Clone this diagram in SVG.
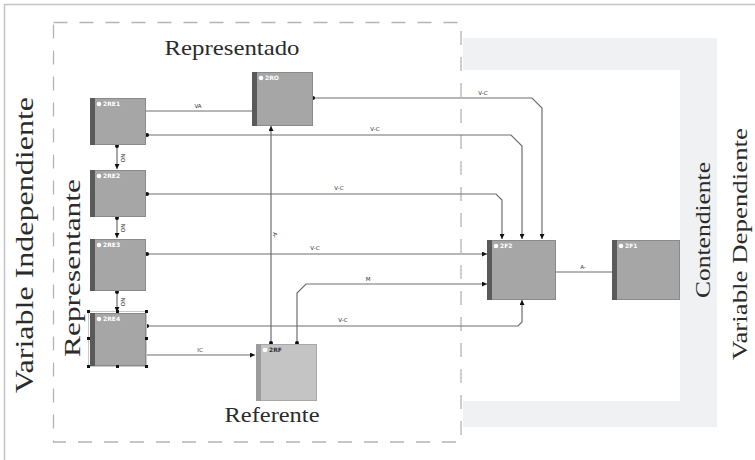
<svg xmlns="http://www.w3.org/2000/svg" width="755" height="460" viewBox="0 0 755 460">
<defs>
<marker id="arr" viewBox="0 0 6 6" refX="6" refY="3" markerWidth="5" markerHeight="5" markerUnits="userSpaceOnUse" orient="auto">
<path d="M0,0 L6,3 L0,6 Z" fill="#111"/>
</marker>
<marker id="dot" viewBox="0 0 6 6" refX="3" refY="3" markerWidth="4" markerHeight="4" markerUnits="userSpaceOnUse">
<circle cx="3" cy="3" r="3" fill="#111"/>
</marker>
</defs>
<style>
.big{font-family:"Liberation Serif","Times New Roman",serif;fill:#2b2b2b;}
.box{fill:#a6a6a6;stroke:#8a8a8a;stroke-width:1;}
.boxl{fill:#c4c4c4;stroke:#a8a8a8;stroke-width:1;}
.stripe{fill:#5a5a5a;}
.stripel{fill:#9c9c9c;}
.nl{font-family:"DejaVu Sans","Liberation Sans",sans-serif;font-size:6px;font-weight:bold;fill:#ffffff;}
.nld{font-family:"DejaVu Sans","Liberation Sans",sans-serif;font-size:6px;font-weight:bold;fill:#333333;}
.ic{fill:#ffffff;}
.c{fill:none;stroke:#6e6e6e;stroke-width:1.2;}
.lab{font-family:"DejaVu Sans","Liberation Sans",sans-serif;font-size:5.5px;fill:#333333;}
.h{fill:#111;}
</style>
<rect width="755" height="460" fill="#ffffff"/>
<path d="M4.5,460 V4.5 H755" fill="none" stroke="#c4c4c4" stroke-width="1.5"/>
<path d="M463,38 H717 V427 H463 V401 H680 V70 H463 Z" fill="#f0f1f3"/>
<rect x="53.5" y="22.5" width="407.5" height="419.5" fill="none" stroke="#b4b4b4" stroke-width="1.3" stroke-dasharray="14,12"/>

<g id="labels">
<text class="big" x="232" y="55" font-size="21" text-anchor="middle" textLength="135" lengthAdjust="spacingAndGlyphs">Representado</text>
<text class="big" x="272" y="422" font-size="21" text-anchor="middle" textLength="95" lengthAdjust="spacingAndGlyphs">Referente</text>
<text class="big" transform="translate(33,245) rotate(-90)" font-size="25" text-anchor="middle" textLength="296" lengthAdjust="spacingAndGlyphs">Variable Independiente</text>
<text class="big" transform="translate(80,268) rotate(-90)" font-size="23" text-anchor="middle" textLength="178" lengthAdjust="spacingAndGlyphs">Representante</text>
<text class="big" transform="translate(710,230) rotate(-90)" font-size="21" text-anchor="middle" textLength="136" lengthAdjust="spacingAndGlyphs">Contendiente</text>
<text class="big" transform="translate(747,244) rotate(-90)" font-size="21" text-anchor="middle" textLength="232" lengthAdjust="spacingAndGlyphs">Variable Dependiente</text>
</g>

<g id="connectors">
<path class="c" d="M145,111 H252"/>
<path class="c" d="M313,98 H532 L542,108 V239" marker-start="url(#dot)" marker-end="url(#arr)"/>
<path class="c" d="M147,135 H511 L522,146 V239" marker-start="url(#dot)" marker-end="url(#arr)"/>
<path class="c" d="M147,194 H496 L502,200 V239" marker-start="url(#dot)" marker-end="url(#arr)"/>
<path class="c" d="M147,254 H487" marker-start="url(#dot)" marker-end="url(#arr)"/>
<path class="c" d="M297,343 V293 L306,284 H487" marker-start="url(#dot)" marker-end="url(#arr)"/>
<path class="c" d="M147,326 H518 L522,322 V300" marker-start="url(#dot)" marker-end="url(#arr)"/>
<path class="c" d="M147,355 H255" marker-end="url(#arr)"/>
<path class="c" d="M271,343 V126" marker-start="url(#dot)" marker-end="url(#arr)"/>
<path class="c" d="M555,272 H612"/>
<path class="c" d="M117,146 V169" marker-start="url(#dot)" marker-end="url(#arr)"/>
<path class="c" d="M117,218 V238" marker-start="url(#dot)" marker-end="url(#arr)"/>
<path class="c" d="M117,292 V312" marker-start="url(#dot)" marker-end="url(#arr)"/>
<text class="lab" x="198" y="108" text-anchor="middle">VA</text>
<text class="lab" x="483" y="95" text-anchor="middle">V-C</text>
<text class="lab" x="375" y="131" text-anchor="middle">V-C</text>
<text class="lab" x="339" y="190" text-anchor="middle">V-C</text>
<text class="lab" x="315" y="250" text-anchor="middle">V-C</text>
<text class="lab" x="368" y="281" text-anchor="middle">M</text>
<text class="lab" x="343" y="322" text-anchor="middle">V-C</text>
<text class="lab" x="200" y="352" text-anchor="middle">IC</text>
<text class="lab" x="583" y="269" text-anchor="middle">A-</text>
<text class="lab" transform="translate(273,235) rotate(90)" text-anchor="middle">A-</text>
<text class="lab" transform="translate(121,158) rotate(90)" text-anchor="middle">NO</text>
<text class="lab" transform="translate(121,228) rotate(90)" text-anchor="middle">NO</text>
<text class="lab" transform="translate(121,302) rotate(90)" text-anchor="middle">NO</text>
</g>

<g id="n2RE1"><rect class="box" x="90.5" y="98.5" width="55" height="46"/><rect class="stripe" x="90" y="98" width="5" height="47"/><circle class="ic" cx="99" cy="104" r="2.3"/><text class="nl" x="103" y="106">2RE1</text></g>
<g id="n2RE2"><rect class="box" x="90.5" y="170.5" width="55" height="46"/><rect class="stripe" x="90" y="170" width="5" height="47"/><circle class="ic" cx="99" cy="176" r="2.3"/><text class="nl" x="103" y="178">2RE2</text></g>
<g id="n2RE3"><rect class="box" x="90.5" y="239.5" width="55" height="51"/><rect class="stripe" x="90" y="239" width="5" height="52"/><circle class="ic" cx="99" cy="245" r="2.3"/><text class="nl" x="103" y="247">2RE3</text></g>
<g id="n2RE4"><rect x="88.5" y="311.5" width="58" height="55" fill="none" stroke="#c8c8c8" stroke-width="1"/><rect class="box" x="90.5" y="313.5" width="55" height="52"/><rect class="stripe" x="90" y="313" width="5" height="53"/><circle class="ic" cx="99" cy="319" r="2.3"/><text class="nl" x="103" y="321">2RE4</text>
<rect class="h" x="87" y="310" width="3" height="3"/><rect class="h" x="116" y="310" width="3" height="3"/><rect class="h" x="145" y="310" width="3" height="3"/><rect class="h" x="87" y="337" width="3" height="3"/><rect class="h" x="145" y="337" width="3" height="3"/><rect class="h" x="87" y="365" width="3" height="3"/><rect class="h" x="116" y="365" width="3" height="3"/><rect class="h" x="145" y="365" width="3" height="3"/></g>
<g id="n2RO"><rect class="box" x="252.5" y="72.5" width="60" height="53"/><rect class="stripe" x="252" y="72" width="5" height="54"/><circle class="ic" cx="261" cy="78" r="2.3"/><text class="nl" x="265" y="80">2RO</text></g>
<g id="n2RF"><rect class="boxl" x="256.5" y="344.5" width="60" height="56"/><rect class="stripel" x="256" y="344" width="5" height="57"/><circle class="ic" cx="265" cy="350" r="2.3"/><text class="nld" x="269" y="352">2RF</text></g>
<g id="n2F2"><rect class="box" x="487.5" y="240.5" width="68" height="59"/><rect class="stripe" x="487" y="240" width="5" height="60"/><circle class="ic" cx="496" cy="246" r="2.3"/><text class="nl" x="500" y="248">2F2</text></g>
<g id="n2F1"><rect class="box" x="612.5" y="240.5" width="67" height="59"/><rect class="stripe" x="612" y="240" width="5" height="60"/><circle class="ic" cx="621" cy="246" r="2.3"/><text class="nl" x="625" y="248">2F1</text></g>
</svg>
